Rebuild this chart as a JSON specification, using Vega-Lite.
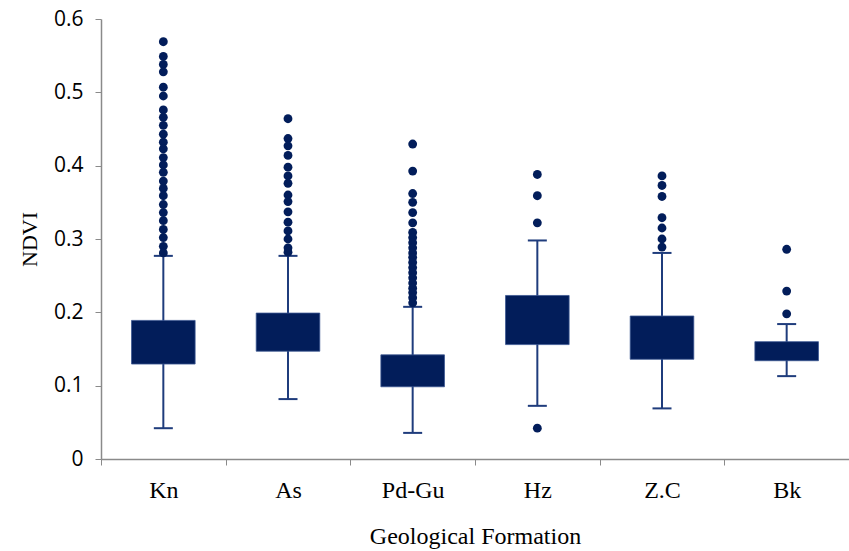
{
  "$schema": "https://vega.github.io/schema/vega-lite/v6.json",
  "width": 748,
  "height": 440,
  "autosize": "none",
  "padding": {"left": 101, "top": 19, "right": 0, "bottom": 92},
  "background": "white",
  "config": {"view": {"stroke": null}},
  "datasets": {
    "stats": [
      {"formation": "Kn", "lower": 0.042, "q1": 0.1295, "q3": 0.189, "upper": 0.277},
      {"formation": "As", "lower": 0.0817, "q1": 0.147, "q3": 0.199, "upper": 0.277},
      {"formation": "Pd-Gu", "lower": 0.0356, "q1": 0.0985, "q3": 0.142, "upper": 0.2075},
      {"formation": "Hz", "lower": 0.0725, "q1": 0.156, "q3": 0.223, "upper": 0.298},
      {"formation": "Z.C", "lower": 0.069, "q1": 0.136, "q3": 0.195, "upper": 0.281},
      {"formation": "Bk", "lower": 0.113, "q1": 0.134, "q3": 0.160, "upper": 0.184}
    ],
    "outliers": [
      {"formation": "Kn", "ndvi": 0.569}, {"formation": "Kn", "ndvi": 0.549}, {"formation": "Kn", "ndvi": 0.538},
      {"formation": "Kn", "ndvi": 0.528}, {"formation": "Kn", "ndvi": 0.507}, {"formation": "Kn", "ndvi": 0.495},
      {"formation": "Kn", "ndvi": 0.476}, {"formation": "Kn", "ndvi": 0.466}, {"formation": "Kn", "ndvi": 0.455},
      {"formation": "Kn", "ndvi": 0.443}, {"formation": "Kn", "ndvi": 0.432}, {"formation": "Kn", "ndvi": 0.423},
      {"formation": "Kn", "ndvi": 0.411}, {"formation": "Kn", "ndvi": 0.401}, {"formation": "Kn", "ndvi": 0.391},
      {"formation": "Kn", "ndvi": 0.379}, {"formation": "Kn", "ndvi": 0.369}, {"formation": "Kn", "ndvi": 0.359},
      {"formation": "Kn", "ndvi": 0.347}, {"formation": "Kn", "ndvi": 0.336}, {"formation": "Kn", "ndvi": 0.325},
      {"formation": "Kn", "ndvi": 0.313}, {"formation": "Kn", "ndvi": 0.302}, {"formation": "Kn", "ndvi": 0.290},
      {"formation": "Kn", "ndvi": 0.281},
      {"formation": "As", "ndvi": 0.464}, {"formation": "As", "ndvi": 0.437}, {"formation": "As", "ndvi": 0.427},
      {"formation": "As", "ndvi": 0.414}, {"formation": "As", "ndvi": 0.398}, {"formation": "As", "ndvi": 0.386},
      {"formation": "As", "ndvi": 0.376}, {"formation": "As", "ndvi": 0.360}, {"formation": "As", "ndvi": 0.351},
      {"formation": "As", "ndvi": 0.337}, {"formation": "As", "ndvi": 0.323}, {"formation": "As", "ndvi": 0.311},
      {"formation": "As", "ndvi": 0.300}, {"formation": "As", "ndvi": 0.288}, {"formation": "As", "ndvi": 0.282},
      {"formation": "Pd-Gu", "ndvi": 0.4295}, {"formation": "Pd-Gu", "ndvi": 0.3926}, {"formation": "Pd-Gu", "ndvi": 0.362},
      {"formation": "Pd-Gu", "ndvi": 0.350}, {"formation": "Pd-Gu", "ndvi": 0.336}, {"formation": "Pd-Gu", "ndvi": 0.322},
      {"formation": "Pd-Gu", "ndvi": 0.309}, {"formation": "Pd-Gu", "ndvi": 0.302}, {"formation": "Pd-Gu", "ndvi": 0.295},
      {"formation": "Pd-Gu", "ndvi": 0.288}, {"formation": "Pd-Gu", "ndvi": 0.281}, {"formation": "Pd-Gu", "ndvi": 0.275},
      {"formation": "Pd-Gu", "ndvi": 0.268}, {"formation": "Pd-Gu", "ndvi": 0.261}, {"formation": "Pd-Gu", "ndvi": 0.254},
      {"formation": "Pd-Gu", "ndvi": 0.247}, {"formation": "Pd-Gu", "ndvi": 0.240}, {"formation": "Pd-Gu", "ndvi": 0.233},
      {"formation": "Pd-Gu", "ndvi": 0.227}, {"formation": "Pd-Gu", "ndvi": 0.220}, {"formation": "Pd-Gu", "ndvi": 0.213},
      {"formation": "Hz", "ndvi": 0.388}, {"formation": "Hz", "ndvi": 0.359}, {"formation": "Hz", "ndvi": 0.322},
      {"formation": "Hz", "ndvi": 0.042},
      {"formation": "Z.C", "ndvi": 0.386}, {"formation": "Z.C", "ndvi": 0.373}, {"formation": "Z.C", "ndvi": 0.358},
      {"formation": "Z.C", "ndvi": 0.329}, {"formation": "Z.C", "ndvi": 0.315}, {"formation": "Z.C", "ndvi": 0.300},
      {"formation": "Z.C", "ndvi": 0.289},
      {"formation": "Bk", "ndvi": 0.286}, {"formation": "Bk", "ndvi": 0.229}, {"formation": "Bk", "ndvi": 0.198}
    ]
  },
  "encoding": {
    "x": {
      "field": "formation",
      "type": "nominal",
      "sort": ["Kn", "As", "Pd-Gu", "Hz", "Z.C", "Bk"],
      "scale": {"paddingInner": 0, "paddingOuter": 0},
      "axis": {
        "title": "Geological Formation",
        "labelAngle": 0,
        "tickBand": "extent",
        "domainColor": "#8a8a8a",
        "domainWidth": 1.5,
        "tickColor": "#8a8a8a",
        "tickSize": 6,
        "labelFont": "Liberation Serif",
        "labelFontSize": 24,
        "labelColor": "#000000",
        "labelPadding": 13,
        "titleFont": "Liberation Serif",
        "titleFontSize": 24,
        "titleFontWeight": "normal",
        "titleColor": "#000000",
        "titlePadding": 22
      }
    }
  },
  "layer": [
    {
      "data": {"name": "stats"},
      "mark": {"type": "rule", "color": "#1f3c7c", "strokeWidth": 2},
      "encoding": {
        "y": {"field": "lower", "type": "quantitative", "scale": {"domain": [0, 0.6], "nice": false},
          "axis": {
            "title": "NDVI",
            "values": [0, 0.1, 0.2, 0.3, 0.4, 0.5, 0.6],
            "format": "~g",
            "grid": false,
            "domainColor": "#8a8a8a",
            "domainWidth": 1.5,
            "tickColor": "#8a8a8a",
            "tickSize": 6,
            "labelFont": "Open Sans",
            "labelFontSize": 21,
            "labelColor": "#000000",
            "labelPadding": 12,
            "titleFont": "Liberation Serif",
            "titleFontSize": 22,
            "titleFontWeight": "normal",
            "titleColor": "#000000",
            "titlePadding": 12
          }
        },
        "y2": {"field": "upper"}
      }
    },
    {
      "data": {"name": "stats"},
      "mark": {"type": "tick", "color": "#1f3c7c", "thickness": 2, "size": 19, "opacity": 1},
      "encoding": {"y": {"field": "lower", "type": "quantitative"}}
    },
    {
      "data": {"name": "stats"},
      "mark": {"type": "tick", "color": "#1f3c7c", "thickness": 2, "size": 19, "opacity": 1},
      "encoding": {"y": {"field": "upper", "type": "quantitative"}}
    },
    {
      "data": {"name": "stats"},
      "mark": {"type": "bar", "color": "#021d5a", "width": {"band": 0.51}, "stroke": "#3a5590", "strokeWidth": 0.8},
      "encoding": {"y": {"field": "q1", "type": "quantitative"}, "y2": {"field": "q3"}}
    },
    {
      "data": {"name": "outliers"},
      "mark": {"type": "point", "filled": true, "shape": "circle", "color": "#021d5a", "size": 78, "opacity": 1},
      "encoding": {"y": {"field": "ndvi", "type": "quantitative"}}
    }
  ]
}
